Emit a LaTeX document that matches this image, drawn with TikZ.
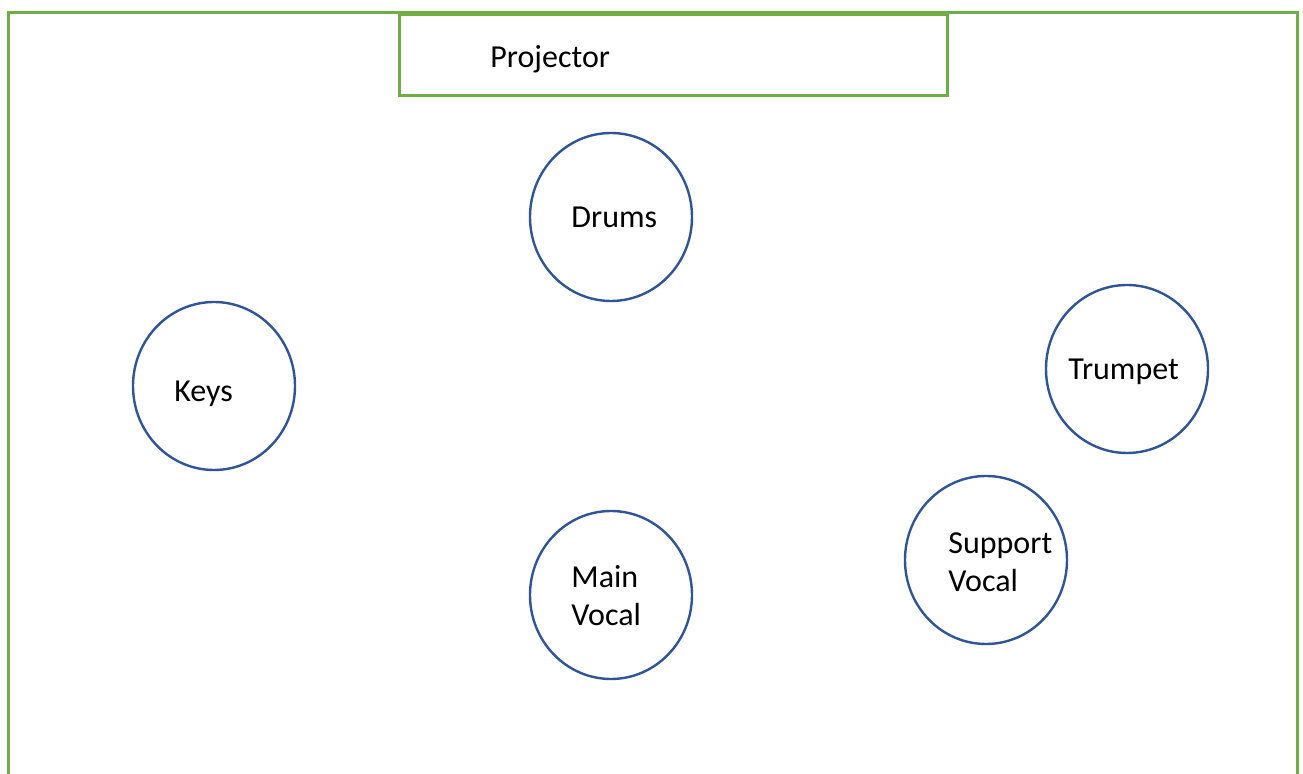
\documentclass[tikz,border=0pt]{standalone}
\usepackage{fontspec}
\setmainfont{Carlito}
\usetikzlibrary{shapes.geometric}
\definecolor{stagegreen}{HTML}{70AD47}
\definecolor{ringblue}{HTML}{2F5597}
\begin{document}
\begin{tikzpicture}[x=0.5pt,y=-0.5pt,
  ring/.style={ellipse,draw=ringblue,line width=1.2pt,minimum width=81pt,minimum height=84pt,inner sep=0pt},
  lbl/.style={font=\fontsize{16}{19}\selectfont,inner sep=0pt,text=black},
  frame/.style={draw=stagegreen,line width=1.5pt}]
\useasboundingbox (0,0) rectangle (1303,774);
\draw[frame] (8,13) rectangle (1297,800);
\node[frame,fill=white,anchor=north west,minimum width=274pt,minimum height=40.5pt,inner sep=0pt] (proj) at (398,13) {};
\node[lbl,anchor=base west] (projt) at (490,68) {Projector};
\node[ring] (drums) at (611,217) {};
\node[lbl,anchor=base west] (drumst) at (571,228) {Drums};
\node[ring] (keys) at (214,386) {};
\node[lbl,anchor=base west] (keyst) at (174,402) {Keys};
\node[ring] (trumpet) at (1127,369) {};
\node[lbl,anchor=base west] (trumpett) at (1068,380) {Trumpet};
\node[ring] (mainv) at (611,595) {};
\node[lbl,anchor=north west,align=left] (mainvt) at (571,565) {Main\\Vocal};
\node[ring] (suppv) at (986,560) {};
\node[lbl,anchor=north west,align=left] (suppvt) at (948,532) {Support\\Vocal};
\end{tikzpicture}
\end{document}
